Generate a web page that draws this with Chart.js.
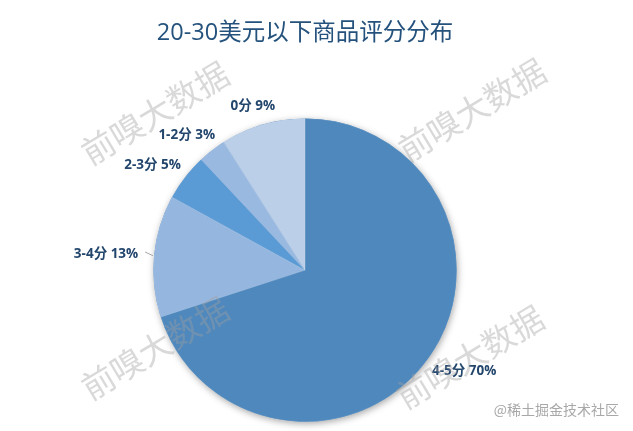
<!DOCTYPE html>
<html>
<head>
<meta charset="utf-8">
<script src="https://cdn.jsdelivr.net/npm/chart.js@4/dist/chart.umd.min.js"></script>
<style>
  html, body { margin: 0; padding: 0; background: #fff; }
  #wrap { width: 633px; height: 431px; position: relative; }
</style>
</head>
<body>
<div id="wrap"><canvas id="chart1"></canvas></div>
<script>
var categories = ['4-5分', '3-4分', '2-3分', '1-2分', '0分'];
var shares = [70, 13, 5, 3, 9];
var sliceColors = ['#4f88bd', '#95b6df', '#5b9bd5', '#9ab9e0', '#bccfe9'];

var FONT = '"Open Sans", "Noto Sans CJK SC", sans-serif';
var CJK = '"Noto Sans CJK SC", "Noto Sans", sans-serif';

// soft shadow under the whole pie
var pieShadow = {
    id: 'pieShadow',
    beforeDatasetsDraw: function (chart) {
        var arc = chart.getDatasetMeta(0).data[0];
        if (!arc) return;
        var ctx = chart.ctx;
        ctx.save();
        ctx.shadowColor = 'rgba(0,0,0,0.35)';
        ctx.shadowBlur = 7;
        ctx.shadowOffsetX = 1;
        ctx.shadowOffsetY = 2;
        ctx.fillStyle = sliceColors[0];
        ctx.beginPath();
        ctx.arc(arc.x, arc.y, arc.outerRadius, 0, Math.PI * 2);
        ctx.fill();
        ctx.restore();
    }
};

// outside labels
var sliceLabels = {
    id: 'sliceLabels',
    afterDatasetsDraw: function (chart) {
        var ctx = chart.ctx;
        var meta = chart.getDatasetMeta(0);
        ctx.save();
        ctx.font = 'bold 13.5px ' + FONT;
        ctx.fillStyle = '#23466d';
        ctx.textBaseline = 'middle';
        ctx.textAlign = 'left';
        meta.data.forEach(function (arc, i) {
            var a = (arc.startAngle + arc.endAngle) / 2;
            var c = Math.cos(a), s = Math.sin(a);
            var r = arc.outerRadius;
            var text = categories[i] + ' ' + shares[i] + '%';
            var w = ctx.measureText(text).width;
            var h = 13;
            var off = 13;
            if (Math.abs(c) > 0.95) {
                off = 16;
                ctx.strokeStyle = '#a6a6a6';
                ctx.lineWidth = 1;
                ctx.beginPath();
                ctx.moveTo(arc.x + (r + 1) * c, arc.y + (r + 1) * s);
                ctx.lineTo(arc.x + (r + 9) * c, arc.y + (r + 9) * s - 3);
                ctx.stroke();
            }
            var ax = arc.x + (r + off) * c;
            var ay = arc.y + (r + off) * s;
            var left = ax - w / 2 + (w / 2) * c;
            var cy = ay + (h / 2) * s;
            ctx.fillText(text, left, cy);
        });
        ctx.restore();
    }
};

// watermarks
var marks = {
    id: 'marks',
    afterDraw: function (chart) {
        var ctx = chart.ctx;
        var spots = [[155, 113], [472, 110], [155, 348], [470, 357]];
        ctx.save();
        ctx.font = '33px ' + CJK;
        ctx.fillStyle = 'rgba(160,160,160,0.4)';
        ctx.textAlign = 'center';
        ctx.textBaseline = 'middle';
        spots.forEach(function (p) {
            ctx.save();
            ctx.translate(p[0], p[1]);
            ctx.rotate(-31 * Math.PI / 180);
            ctx.fillText('前嗅大数据', 0, 0);
            ctx.restore();
        });
        ctx.font = '14px ' + CJK;
        ctx.fillStyle = '#a8a8a8';
        ctx.textAlign = 'right';
        ctx.fillText('@稀土掘金技术社区', 619, 410);
        ctx.restore();
    }
};

new Chart(document.getElementById('chart1'), {
    type: 'pie',
    data: {
        labels: categories,
        datasets: [
            {
                data: shares,
                backgroundColor: sliceColors,
                borderColor: 'rgba(255,255,255,0.25)',
                borderWidth: 0.5
            }
        ]
    },
    options: {
        responsive: true,
        maintainAspectRatio: false,
        animation: false,
        layout: { padding: { left: 140, right: 163, top: 0, bottom: 9 } },
        plugins: {
            legend: { display: false },
            tooltip: { enabled: false },
            title: {
                display: true,
                text: '20-30美元以下商品评分分布',
                color: '#24527c',
                font: { family: FONT, size: 23.5, weight: 'normal' },
                padding: { top: 19, bottom: 71 }
            }
        }
    },
    plugins: [pieShadow, sliceLabels, marks]
});
</script>
</body>
</html>
